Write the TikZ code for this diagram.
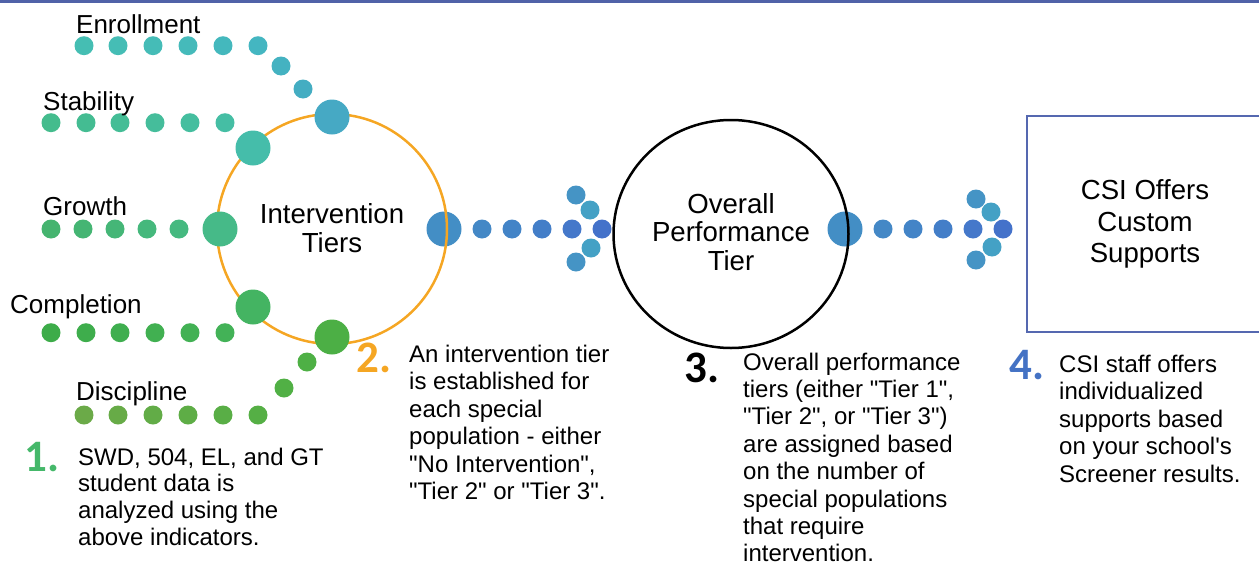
\documentclass[tikz,border=0pt]{standalone}
\usepackage{fontspec}
\usetikzlibrary{shapes.geometric}
\setmainfont{Liberation Sans}
\newfontfamily\numfont{Carlito}
\newcommand\dq{\XeTeXglyph\XeTeXcharglyph"22\relax}
\newcommand\sq{\XeTeXglyph\XeTeXcharglyph"27\relax}
\definecolor{bandblue}{HTML}{5062A8}
\definecolor{orangec}{HTML}{F5A623}
\definecolor{boxblue}{HTML}{5568B0}
\definecolor{eA}{HTML}{45BEB3}\definecolor{eB}{HTML}{44B6C1}
\definecolor{sA}{HTML}{44BC8D}\definecolor{sB}{HTML}{45BEA4}
\definecolor{gA}{HTML}{45B46F}\definecolor{gB}{HTML}{45B980}
\definecolor{cA}{HTML}{3DAC49}\definecolor{cB}{HTML}{43B257}
\definecolor{dA}{HTML}{6BAA48}\definecolor{dB}{HTML}{55AF45}
\definecolor{numgreen}{HTML}{45B86A}
\definecolor{numblue}{HTML}{4472C4}
\begin{document}
\begin{tikzpicture}[x=1pt,y=-1pt,
  dotn/.style={circle,inner sep=0pt,minimum size=19pt,draw=none},
  bigdot/.style={dotn,minimum size=35pt},
  lbl/.style={font=\fontsize{26}{28}\selectfont,inner sep=0pt,anchor=base west},
  stepnum/.style={font=\numfont\bfseries\fontsize{45}{45}\selectfont,inner sep=0pt,anchor=base west},
  body/.style={align=left,inner sep=0pt,anchor=north west}]
\useasboundingbox (0,0) rectangle (1259,565);
\fill[bandblue] (0,0) rectangle (1259,3);

% arrow 1 big dot (under orange circle)
\node[bigdot,fill={rgb,255:red,67;green,142;blue,197}] (a0) at (444,229) {};
% orange circle
\node[circle,draw=orangec,line width=2.5pt,minimum size=230pt,inner sep=0pt] (it) at (332,229) {};
\node[font=\fontsize{27.6}{28.3}\selectfont,align=center,inner sep=0pt,anchor=north] (itl) at (332,202.9) {\strut Intervention\\Tiers};

% Enrollment
\foreach \i/\x/\p in {1/84/100,2/118/85,3/153/70,4/188/50,5/223/30,6/258/0}
  \node[dotn,fill=eA!\p!eB] (e\i) at (\x,45.7) {};
\node[dotn,fill={rgb,255:red,68;green,178;blue,193}] (e7) at (281,66) {};
\node[dotn,fill={rgb,255:red,68;green,173;blue,194}] (e8) at (303,89) {};
\node[bigdot,fill={rgb,255:red,70;green,169;blue,196}] (E) at (332,117) {};
\node[lbl] (enl) at (76,33) {Enrollment};

% Stability
\foreach \i/\x/\p in {1/51/100,2/86/80,3/120/60,4/155/40,5/190/20,6/225/0}
  \node[dotn,fill=sA!\p!sB] (s\i) at (\x,122.7) {};
\node[bigdot,fill={rgb,255:red,69;green,189;blue,170}] (S) at (253,148) {};
\node[lbl] (stl) at (43,110) {Stability};

% Growth
\foreach \i/\x/\p in {1/51/100,2/83/75,3/115/50,4/147/25,5/179/0}
  \node[dotn,fill=gA!\p!gB] (g\i) at (\x,229) {};
\node[bigdot,fill={rgb,255:red,70;green,186;blue,136}] (G) at (220,229) {};
\node[lbl] (grl) at (43,215) {Growth};

% Completion
\foreach \i/\x/\p in {1/51/100,2/86/80,3/120/60,4/155/40,5/190/20,6/225/0}
  \node[dotn,fill=cA!\p!cB] (c\i) at (\x,332.7) {};
\node[bigdot,fill={rgb,255:red,68;green,180;blue,98}] (C) at (253,307) {};
\node[lbl] (col) at (10,313) {Completion};

% Discipline
\foreach \i/\x/\p in {1/84/100,2/118/80,3/153/60,4/188/40,5/223/20,6/258/0}
  \node[dotn,fill=dA!\p!dB] (d\i) at (\x,415) {};
\node[dotn,fill={rgb,255:red,81;green,176;blue,69}] (d7) at (284,388) {};
\node[dotn,fill={rgb,255:red,78;green,176;blue,69}] (d8) at (307,362) {};
\node[bigdot,fill={rgb,255:red,76;green,175;blue,69}] (D) at (332,337) {};
\node[lbl] (dil) at (76,400.7) {Discipline};

% arrow 1 small dots
\node[dotn,fill={rgb,255:red,68;green,136;blue,198}] (a1) at (482,229) {};
\node[dotn,fill={rgb,255:red,67;green,132;blue,199}] (a2) at (512,229) {};
\node[dotn,fill={rgb,255:red,67;green,126;blue,200}] (a3) at (542,229) {};
\node[dotn,fill={rgb,255:red,69;green,120;blue,202}] (a4) at (572,229) {};
\node[dotn,fill={rgb,255:red,68;green,114;blue,202}] (a5) at (602,229) {};
\node[dotn,fill={rgb,255:red,69;green,148;blue,197}] (ac1) at (576,195) {};
\node[dotn,fill={rgb,255:red,68;green,161;blue,197}] (ac2) at (590,210) {};
\node[dotn,fill={rgb,255:red,68;green,161;blue,197}] (ac3) at (591,248) {};
\node[dotn,fill={rgb,255:red,69;green,148;blue,197}] (ac4) at (576,262) {};

% arrow 2 big dot (under black circle)
\node[bigdot,fill={rgb,255:red,67;green,142;blue,197}] (b0) at (845,229) {};
% black circle
\node[ellipse,draw=black,line width=2.5pt,minimum width=235pt,minimum height=228pt,inner sep=0pt] (op) at (731,234) {};
\node[font=\fontsize{27.6}{28.8}\selectfont,align=center,inner sep=0pt,anchor=north] (opl) at (731,192.8) {\strut Overall\\Performance\\Tier};

% arrow 2 small dots
\node[dotn,fill={rgb,255:red,68;green,136;blue,198}] (b1) at (883,229) {};
\node[dotn,fill={rgb,255:red,67;green,132;blue,199}] (b2) at (913,229) {};
\node[dotn,fill={rgb,255:red,67;green,126;blue,200}] (b3) at (943,229) {};
\node[dotn,fill={rgb,255:red,69;green,120;blue,202}] (b4) at (973,229) {};
\node[dotn,fill={rgb,255:red,68;green,114;blue,202}] (b5) at (1003,229) {};
\node[dotn,fill={rgb,255:red,69;green,148;blue,197}] (bc1) at (976,199) {};
\node[dotn,fill={rgb,255:red,68;green,161;blue,197}] (bc2) at (991,212) {};
\node[dotn,fill={rgb,255:red,68;green,161;blue,197}] (bc3) at (992,247) {};
\node[dotn,fill={rgb,255:red,69;green,148;blue,197}] (bc4) at (976,260) {};

% CSI box
\node[draw=boxblue,line width=1.5pt,minimum width=236pt,minimum height=216pt,inner sep=0pt,align=center,font=\fontsize{27.6}{31.7}\selectfont] (csi) at (1145,224) {CSI Offers\\Custom\\Supports};

% step 1
\node[stepnum,text=numgreen] (n1) at (24,471.7) {1.};
\node[body,font=\fontsize{24}{26.7}\selectfont] (t1) at (78,446.3) {\strut SWD, 504, EL, and GT\\student data is\\analyzed using the\\above indicators.};
% step 2
\node[stepnum,text=orangec] (n2) at (356,372.7) {2.};
\node[body,font=\fontsize{24}{27.5}\selectfont] (t2) at (409,342.75) {\strut An intervention tier\\is established for\\each special\\population - either\\\dq No Intervention\dq,\\\dq Tier 2\dq{} or \dq Tier 3\dq.};
% step 3
\node[stepnum,text=black] (n3) at (684,382.7) {3.};
\node[body,font=\fontsize{24}{27.4}\selectfont] (t3) at (743,350.8) {\strut Overall performance\\tiers (either \dq Tier 1\dq,\\\dq Tier 2\dq, or \dq Tier 3\dq)\\are assigned based\\on the number of\\special populations\\that require\\intervention.};
% step 4
\node[stepnum,text=numblue] (n4) at (1009,379) {4.};
\node[body,font=\fontsize{24}{27.5}\selectfont] (t4) at (1059,353) {\strut CSI staff offers\\individualized\\supports based\\on your school\sq s\\Screener results.};
\end{tikzpicture}
\end{document}
